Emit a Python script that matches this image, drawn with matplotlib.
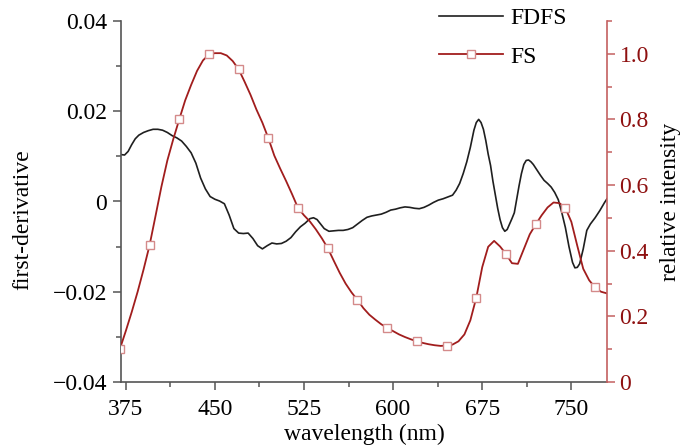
import matplotlib
matplotlib.use("Agg")
import matplotlib.pyplot as plt
from matplotlib.ticker import MultipleLocator

plt.rcParams['font.family'] = ['Liberation Serif', 'DejaVu Serif']
plt.rcParams['font.size'] = 17

# FDFS (first-derivative) curve
fdfs_nm = [371, 374, 377, 380, 383, 386, 390, 394, 398, 402, 406, 410, 414, 418, 422, 426, 430,
           434, 438, 442, 446, 450, 454, 458, 462, 466, 470, 474, 478, 482, 486, 490, 494, 498,
           502, 506, 510, 514, 518, 522, 526, 530, 533, 536, 539, 542, 546, 550, 554, 558, 562,
           566, 570, 574, 578, 582, 586, 590, 594, 598, 602, 606, 610, 614, 618, 622, 626, 630,
           634, 638, 642, 646, 650, 653, 656, 659, 662, 665, 668, 670, 672, 674, 676, 678, 680,
           682, 684, 686, 688, 690, 692, 694, 696, 698, 700, 702, 704, 706, 708, 710, 712, 714,
           716, 718, 721, 724, 727, 730, 733, 736, 739, 742, 745, 748, 751, 753, 755, 757, 760,
           763, 766, 770, 774, 778, 780]
fdfs_val = [0.0104, 0.0103, 0.0111, 0.0126, 0.0139, 0.0147, 0.0153, 0.0157, 0.0160, 0.0160,
            0.0158, 0.0153, 0.0146, 0.0141, 0.0134, 0.0122, 0.0108,
            0.0085, 0.0052, 0.0028, 0.0011, 0.0005, 0.0001, -0.0005, -0.0030, -0.0060, -0.0070,
            -0.0071, -0.0070, -0.0082, -0.0098, -0.0105, -0.0098, -0.0092,
            -0.0094, -0.0093, -0.0088, -0.0080, -0.0067, -0.0056, -0.0048, -0.0038, -0.0036,
            -0.0040, -0.0050, -0.0060, -0.0066, -0.0065, -0.0064, -0.0064, -0.0062,
            -0.0058, -0.0050, -0.0042, -0.0035, -0.0032, -0.0030, -0.0028, -0.0024, -0.0019,
            -0.0017, -0.0014, -0.0012, -0.0013, -0.0015, -0.0016, -0.0013, -0.0008,
            -0.0002, 0.0003, 0.0006, 0.0010, 0.0014, 0.0025, 0.0040, 0.0062, 0.0088, 0.0120,
            0.0158, 0.0175, 0.0182, 0.0175, 0.0160, 0.0135, 0.0105,
            0.0080, 0.0045, 0.0015, -0.0015, -0.0040, -0.0058, -0.0066, -0.0062, -0.0050,
            -0.0038, -0.0025, 0.0005, 0.0035, 0.0062, 0.0082, 0.0091, 0.0092,
            0.0088, 0.0082, 0.0070, 0.0058, 0.0047, 0.0040, 0.0032, 0.0020, 0.0004, -0.0025,
            -0.0058, -0.0100, -0.0135, -0.0147, -0.0146, -0.0138, -0.0105,
            -0.0064, -0.0050, -0.0036, -0.0020, -0.0002, 0.0006]

# FS (relative intensity) curve, 5 nm steps
fs_nm = list(range(370, 785, 5))
fs_val = [0.100, 0.155, 0.213, 0.275, 0.343, 0.416, 0.505, 0.595, 0.675, 0.740,
          0.800, 0.858, 0.905, 0.948, 0.980, 0.998, 1.002, 1.002, 0.995, 0.978,
          0.953, 0.915, 0.875, 0.830, 0.790, 0.743, 0.690, 0.650, 0.612, 0.572,
          0.530, 0.508, 0.489, 0.465, 0.438, 0.408, 0.370, 0.333, 0.300, 0.273,
          0.250, 0.225, 0.205, 0.190, 0.176, 0.165, 0.155, 0.145, 0.137, 0.130,
          0.124, 0.119, 0.115, 0.112, 0.110, 0.111, 0.114, 0.124, 0.145, 0.188,
          0.257, 0.350, 0.412, 0.430, 0.413, 0.390, 0.362, 0.360, 0.405, 0.450,
          0.480, 0.508, 0.532, 0.547, 0.545, 0.530, 0.488, 0.415, 0.345, 0.310,
          0.288, 0.275, 0.270]

x_ticks = [375, 450, 525, 600, 675, 750]
left_ticks = [-0.04, -0.02, 0, 0.02, 0.04]
left_labels = ['\u22120.04', '\u22120.02', '0', '0.02', '0.04']
right_ticks = [0, 0.2, 0.4, 0.6, 0.8, 1.0]
right_labels = ['0', '0.2', '0.4', '0.6', '0.8', '1.0']

red = '#a11d1d'
red_light = '#c46060'
mark_edge = '#d48a8a'
axis_grey = '#555555'
tick_red = '#8e1010'

fig = plt.figure(figsize=(6.84, 4.48), dpi=100)
ax = fig.add_axes([121/684, 1-382/448, (607-121)/684, (382-21)/448])
ax2 = ax.twinx()

l1, = ax.plot(fdfs_nm, fdfs_val, color='#1f1f1f', lw=1.2, label='FDFS')
l2, = ax2.plot(fs_nm, fs_val, color=red, lw=1.3, marker='s', markersize=5.5,
               markerfacecolor='white', markeredgecolor=mark_edge, markeredgewidth=1.0,
               markevery=5, label='FS')

ax.set_xlim(371, 780)
ax.set_ylim(-0.04, 0.04)
ax2.set_ylim(0, 1.1)

ax.set_xticks(x_ticks)
ax.xaxis.set_minor_locator(MultipleLocator(37.5))
ax.set_yticks(left_ticks)
ax.set_yticklabels(left_labels)
ax.yaxis.set_minor_locator(MultipleLocator(0.01))
ax2.set_yticks(right_ticks)
ax2.set_yticklabels(right_labels)
ax2.yaxis.set_minor_locator(MultipleLocator(0.1))

for a in (ax, ax2):
    a.spines['top'].set_visible(False)
ax.spines['right'].set_visible(False)
ax.spines['left'].set_color(axis_grey)
ax.spines['bottom'].set_color(axis_grey)
ax2.spines['left'].set_visible(False)
ax2.spines['bottom'].set_visible(False)
ax2.spines['right'].set_color(red_light)
for a in (ax, ax2):
    for s in a.spines.values():
        s.set_linewidth(1.2)

ax.tick_params(axis='x', which='major', direction='out', length=6, width=1.1,
               color=axis_grey, labelsize=17, pad=6)
ax.tick_params(axis='y', which='major', direction='out', length=6, width=1.1,
               color=axis_grey, labelsize=17, pad=4)
ax.tick_params(axis='both', which='minor', direction='out', length=3.5, width=1.1,
               color=axis_grey)
ax2.tick_params(axis='y', which='major', direction='out', length=6, width=1.1,
                color=red_light, labelcolor=tick_red, labelsize=17, pad=3)
ax2.tick_params(axis='y', which='minor', direction='out', length=3.5, width=1.1,
                color=red_light)

ax.set_xlabel('wavelength (nm)', fontsize=17, labelpad=3)
ax.set_ylabel('first-derivative', fontsize=17)
ax.yaxis.set_label_coords(-0.181, 0.45)
ax2.set_ylabel('relative intensity', fontsize=17, labelpad=8)

leg = ax2.legend([l1, l2], ['FDFS', 'FS'], loc='upper left',
                 bbox_to_anchor=(425/684, 1.015), bbox_transform=fig.transFigure,
                 frameon=False, handlelength=2.7, handletextpad=0.3,
                 labelspacing=0.72, borderpad=0.1, fontsize=17)

fig.savefig('out.png', dpi=100)
